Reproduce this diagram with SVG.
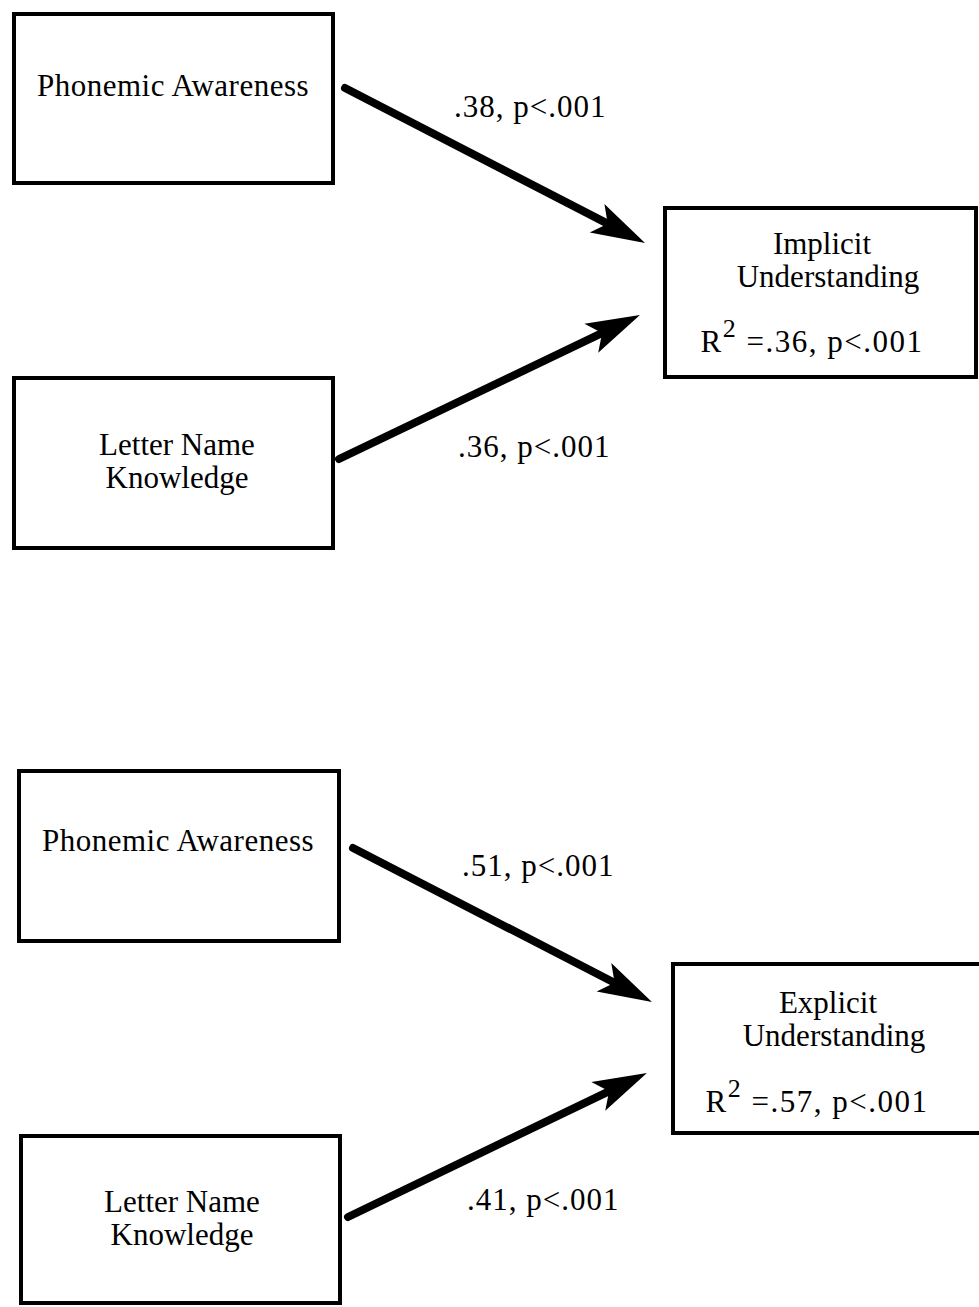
<svg xmlns="http://www.w3.org/2000/svg" width="979" height="1307" viewBox="0 0 979 1307">
<style>
.box{fill:#fff;stroke:#000;stroke-width:4}
.t{font-family:"Liberation Serif","Times New Roman",serif;font-size:31px;fill:#000}
.m{text-anchor:middle}
.lbl{font-family:"Liberation Serif","Times New Roman",serif;font-size:31px;letter-spacing:1px;fill:#000}
.c{stroke:#000;stroke-width:8;stroke-linecap:round;fill:none;marker-end:url(#ah)}
</style>
<defs>
<marker id="ah" markerUnits="userSpaceOnUse" markerWidth="60" markerHeight="40" viewBox="0 -20 60 40" refX="14" refY="0" orient="auto" overflow="visible">
<path d="M54,0 L0,-16 L12,0 L0,16 Z" fill="#000"/>
</marker>
</defs>
<rect width="979" height="1307" fill="#fff"/>
<g id="pa1">
<rect class="box" x="14" y="14" width="319" height="169"/>
<text class="t m" x="173" y="96" letter-spacing="0.5">Phonemic Awareness</text>
</g>
<g id="lnk1">
<rect class="box" x="14" y="378" width="319" height="170"/>
<text class="t m" x="177" y="455">Letter Name</text>
<text class="t m" x="177" y="488">Knowledge</text>
</g>
<g id="impl">
<rect class="box" x="665" y="208" width="311" height="169"/>
<text class="t m" x="822" y="254">Implicit</text>
<text class="t m" x="828" y="287">Understanding</text>
<text class="t m" x="812" y="352" letter-spacing="1.5">R<tspan font-size="26" dy="-15">2</tspan><tspan dy="15"> =.36, p&lt;.001</tspan></text>
</g>
<g id="pa2">
<rect class="box" x="19" y="771" width="320" height="170"/>
<text class="t m" x="178" y="851" letter-spacing="0.5">Phonemic Awareness</text>
</g>
<g id="lnk2">
<rect class="box" x="21" y="1136" width="319" height="167"/>
<text class="t m" x="182" y="1212">Letter Name</text>
<text class="t m" x="182" y="1245">Knowledge</text>
</g>
<g id="expl">
<rect class="box" x="673" y="964" width="320" height="169"/>
<text class="t m" x="828" y="1013">Explicit</text>
<text class="t m" x="834" y="1046">Understanding</text>
<text class="t m" x="817" y="1112" letter-spacing="1.5">R<tspan font-size="26" dy="-15">2</tspan><tspan dy="15"> =.57, p&lt;.001</tspan></text>
</g>
<g id="connectors">
<line class="c" x1="345" y1="88" x2="609.5" y2="224.6"/>
<line class="c" x1="339" y1="459" x2="603.9" y2="332.2"/>
<line class="c" x1="353" y1="848" x2="616.4" y2="983.7"/>
<line class="c" x1="348" y1="1217" x2="610.9" y2="1090.3"/>
<text class="lbl" x="454" y="117">.38, p&lt;.001</text>
<text class="lbl" x="458" y="457">.36, p&lt;.001</text>
<text class="lbl" x="462" y="876">.51, p&lt;.001</text>
<text class="lbl" x="467" y="1210">.41, p&lt;.001</text>
</g>
</svg>
